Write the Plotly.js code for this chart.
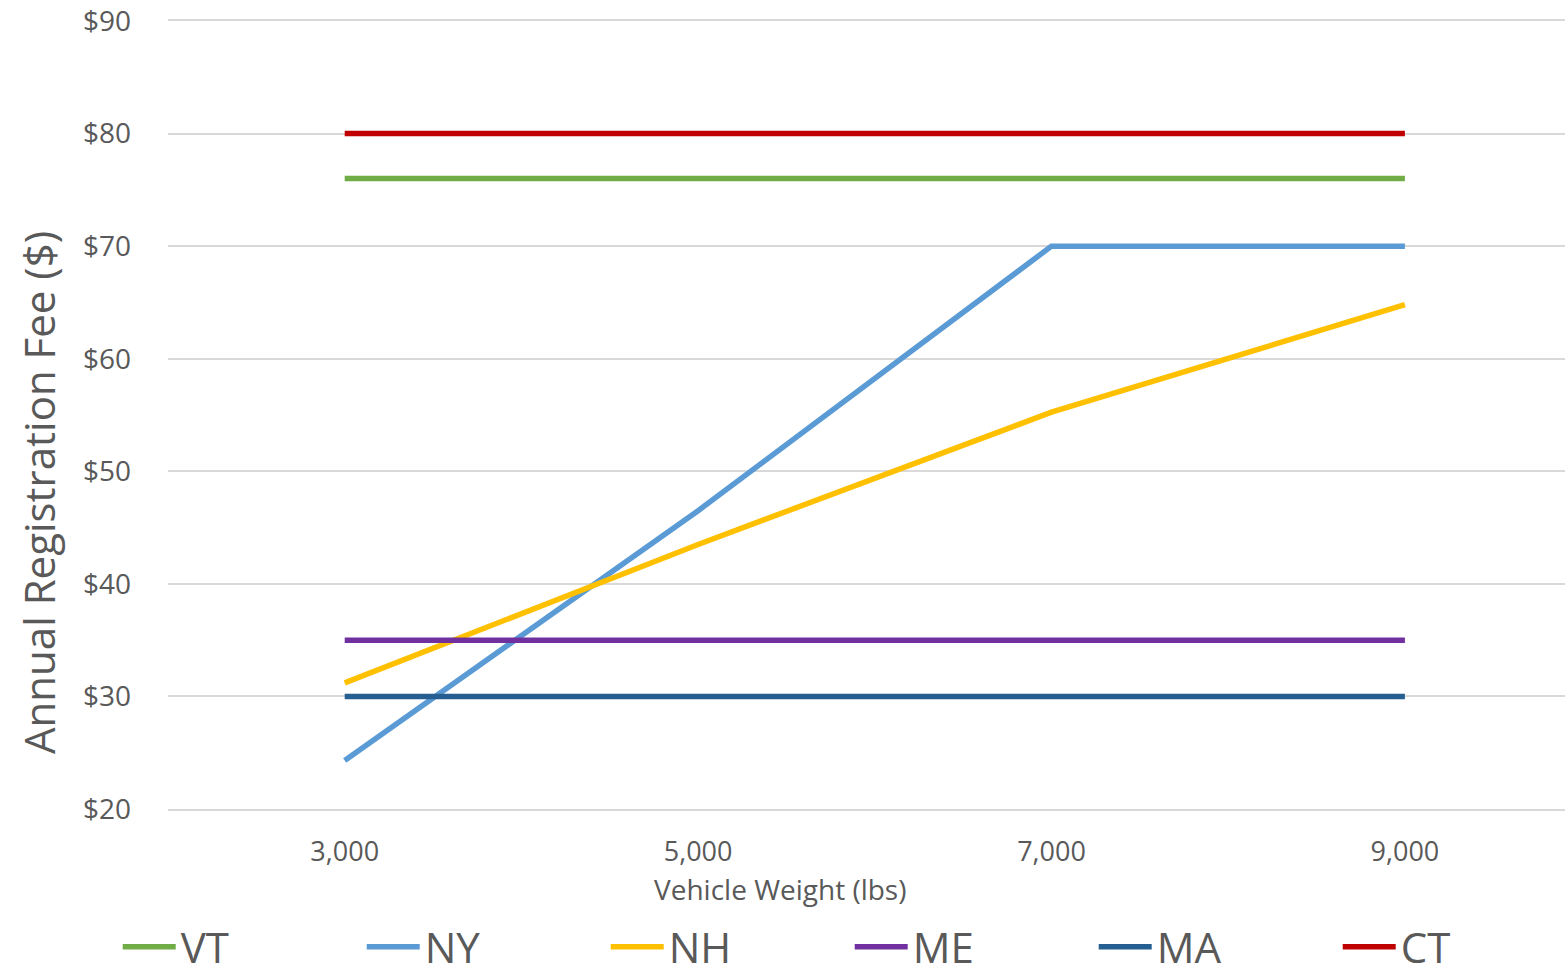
<!DOCTYPE html>
<html>
<head>
<meta charset="utf-8">
<script src="https://cdn.plot.ly/plotly-3.0.1.min.js"></script>
<style>
html,body{margin:0;padding:0;background:#fff;overflow:hidden;}
#chart{width:1565px;height:976px;}
</style>
</head>
<body>
<div id="chart"></div>
<script>
const weights = ["3,000", "5,000", "7,000", "9,000"];
const VT = [76, 76, 76, 76];
const NY = [24.3, 46.5, 70, 70];
const NH = [31.2, 43.5, 55.25, 64.8];
const ME = [35, 35, 35, 35];
const MA = [30, 30, 30, 30];
const CT = [80, 80, 80, 80];

const seriesNames = ["VT", "NY", "NH", "ME", "MA", "CT"];
const seriesValues = [VT, NY, NH, ME, MA, CT];
const seriesColors = ["#70AD47", "#5B9BD5", "#FFC000", "#7030A0", "#255E91", "#C00000"];

const xTitle = "Vehicle Weight (lbs)";
const yTitle = "Annual Registration Fee ($)";

const FONT = "'Open Sans', 'Liberation Sans', sans-serif";
const GREY = "#595959";
const GRID = "#D9D9D9";

const traces = seriesNames.map((name, i) => ({
  type: "scatter",
  mode: "lines",
  name: name,
  x: weights,
  y: seriesValues[i],
  line: {color: seriesColors[i], width: 5.5},
  hoverinfo: "skip"
}));

const layout = {
  width: 1565,
  height: 976,
  margin: {l: 168, r: 0, t: 21, b: 167, pad: 0, autoexpand: false},
  paper_bgcolor: "#ffffff",
  plot_bgcolor: "#ffffff",
  font: {family: FONT, color: GREY},
  showlegend: true,
  legend: {
    orientation: "h",
    x: -0.036,
    xanchor: "left",
    y: -0.175,
    yanchor: "middle",
    font: {family: FONT, size: 42, color: GREY},
    itemwidth: 53,
    entrywidth: 176,
    entrywidthmode: "pixels",
    traceorder: "normal",
    bgcolor: "rgba(0,0,0,0)"
  },
  annotations: [{
    text: xTitle,
    xref: "paper", yref: "paper",
    x: (780 - 168) / 1397, y: -0.101,
    xanchor: "center", yanchor: "middle",
    showarrow: false,
    font: {family: FONT, size: 28, color: GREY}
  }, {
    text: yTitle,
    xref: "paper", yref: "paper",
    x: (38 - 168) / 1397, y: (809 - 493) / 788,
    xanchor: "center", yanchor: "middle",
    textangle: -90,
    showarrow: false,
    font: {family: FONT, size: 42, color: GREY}
  }],
  xaxis: {
    type: "category",
    range: [-0.5, 3.453],
    showgrid: false,
    zeroline: false,
    showline: true,
    mirror: true,
    linecolor: GRID,
    linewidth: 2,
    ticks: "",
    ticklabelstandoff: 18,
    tickfont: {family: FONT, size: 27, color: GREY},
    fixedrange: true
  },
  yaxis: {
    range: [20, 90],
    dtick: 10,
    tick0: 20,
    tickprefix: "$",
    showgrid: true,
    gridcolor: GRID,
    gridwidth: 2,
    zeroline: false,
    showline: false,
    ticks: "",
    ticklabelstandoff: 36,
    tickfont: {family: FONT, size: 28, color: GREY},
    fixedrange: true
  }
};

Plotly.newPlot("chart", traces, layout, {displayModeBar: false, staticPlot: true});
</script>
</body>
</html>
